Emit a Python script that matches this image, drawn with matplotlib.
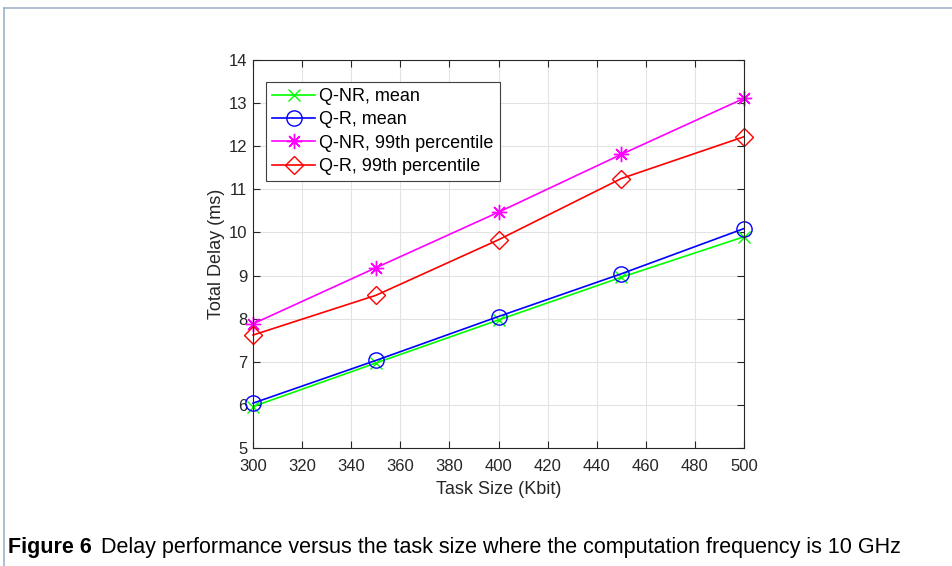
import matplotlib
matplotlib.use('Agg')
import matplotlib.pyplot as plt
from matplotlib.lines import Line2D

plt.rcParams['font.family'] = ['Liberation Sans', 'DejaVu Sans']

taskSize = [300, 350, 400, 450, 500]
qnrMean = [5.96, 6.97, 7.97, 8.96, 9.90]
qrMean = [6.04, 7.03, 8.05, 9.04, 10.09]
qnr99 = [7.88, 9.18, 10.47, 11.81, 13.11]
qr99 = [7.62, 8.54, 9.83, 11.25, 12.22]

seriesNames = ['Q-NR, mean', 'Q-R, mean', 'Q-NR, 99th percentile', 'Q-R, 99th percentile']
seriesColors = ['#00ff00', '#0000ff', '#ff00ff', '#ff0000']
seriesMarkers = ['x', 'o', (8, 2, 0), 'D']
markerSizes = [9, 11, 11, 9]

captionBold = 'Figure 6'
captionText = 'Delay performance versus the task size where the computation frequency is 10 GHz'

fig = plt.figure(figsize=(9.53, 5.66), dpi=100)
ax = fig.add_axes([0.2655, 0.2085, 0.5152, 0.6855])

allSeries = [qnrMean, qrMean, qnr99, qr99]
for vals, name, col, mk, ms in zip(allSeries, seriesNames, seriesColors, seriesMarkers, markerSizes):
    ax.plot(taskSize, vals, color=col, marker=mk, markersize=ms, markerfacecolor='none',
            markeredgecolor=col, markeredgewidth=1.0, linewidth=1.2, label=name, clip_on=False)

ax.set_xlim(300, 500)
ax.set_ylim(5, 14)
ax.set_xticks(range(300, 501, 20))
ax.set_yticks(range(5, 15))
ax.grid(True, color='#e3e3e3', linewidth=0.8)
ax.set_axisbelow(True)
ax.tick_params(direction='in', top=True, right=True, labelsize=12, colors='#262626',
               length=5, width=0.8)
ax.tick_params(axis='x', pad=8)
ax.tick_params(axis='y', pad=4)
for s in ax.spines.values():
    s.set_color('#262626')
    s.set_linewidth(0.8)

ax.set_xlabel('Task Size (Kbit)', fontsize=13, color='#262626', labelpad=5)
ax.set_ylabel('Total Delay (ms)', fontsize=13, color='#262626', labelpad=3)

leg = ax.legend(loc='upper left', bbox_to_anchor=(0.026, 0.944), fontsize=13, handlelength=2.4,
                borderpad=0.35, labelspacing=0.35, handletextpad=0.2, borderaxespad=0,
                fancybox=False, framealpha=1)
leg.get_frame().set_edgecolor('#404040')
leg.get_frame().set_linewidth(0.8)

# page frame
fig.add_artist(Line2D([4 / 953, 4 / 953], [0, 1 - 8 / 566], transform=fig.transFigure,
                      color='#9fb1c9', linewidth=1.2))
fig.add_artist(Line2D([4 / 953, 1], [1 - 8 / 566, 1 - 8 / 566], transform=fig.transFigure,
                      color='#9fb1c9', linewidth=1.2))

fig.text(8 / 953, 1 - 548 / 566, captionBold, fontsize=15.5, va='center', fontweight='bold')
fig.text(101 / 953, 1 - 548 / 566, captionText, fontsize=15.5, va='center')
fig.savefig('out.png', dpi=100)
